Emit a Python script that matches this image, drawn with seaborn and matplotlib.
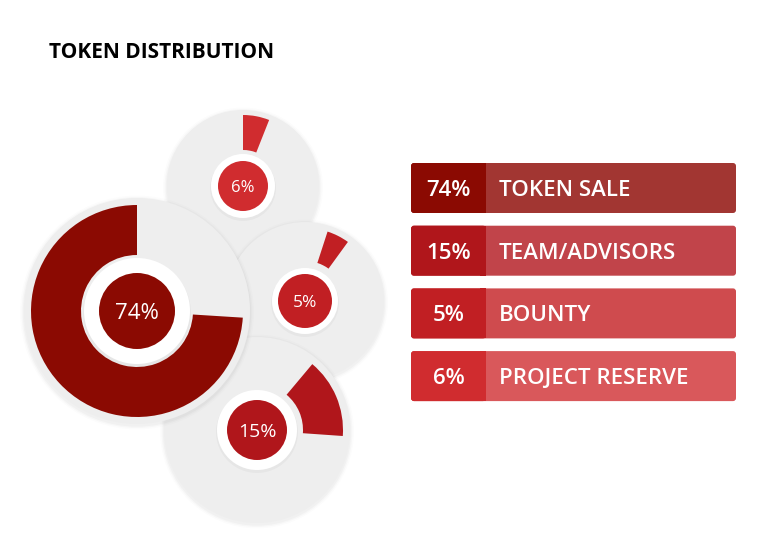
import matplotlib.pyplot as plt
import seaborn as sns
from matplotlib.patches import Circle, FancyBboxPatch, Rectangle

title = "TOKEN DISTRIBUTION"
labels = ["TOKEN SALE", "TEAM/ADVISORS", "BOUNTY", "PROJECT RESERVE"]
shares = [74, 15, 5, 6]
ring_colors = ["#8b0a02", "#b0161b", "#c11f23", "#d02c2f"]
box_colors = ["#a23632", "#c1444a", "#cf4b4e", "#d9585b"]

# donut layout in pixels (origin top-left): centre, gray radius, ring outer/inner,
# white halo radius, dot radius, start angle, direction, font size, draw order
layout = {
    "TOKEN SALE": dict(c=(137, 311), r=113, ro=106, ri=56, rw=53, rd=38, start=90, ccw=True, fs=16, z=4),
    "TEAM/ADVISORS": dict(c=(257, 430), r=93, ro=86, ri=46, rw=40, rd=30, start=50, ccw=False, fs=14, z=3),
    "BOUNTY": dict(c=(305, 301), r=79, ro=73, ri=40, rw=33, rd=27, start=72, ccw=False, fs=12.5, z=2),
    "PROJECT RESERVE": dict(c=(243, 186), r=76, ro=71, ri=36, rw=32, rd=25, start=90, ccw=False, fs=12, z=1),
}

W, H = 760, 548
sns.set_theme(style="white")
plt.rcParams["font.family"] = ["Open Sans", "DejaVu Sans"]

fig = plt.figure(figsize=(W / 100, H / 100), dpi=100)
ax = fig.add_axes([0, 0, 1, 1])

pal = sns.color_palette(ring_colors)
for lab, val, col in zip(labels, shares, pal):
    d = layout[lab]
    cx, cy = d["c"][0], H - d["c"][1]
    z = d["z"] * 10
    # soft shadow
    for k, a in [(4, 0.012), (2.5, 0.018), (1.2, 0.025)]:
        ax.add_patch(Circle((cx, cy - 1.5), d["r"] + k, color="black", alpha=a, lw=0, zorder=z))
    ax.add_patch(Circle((cx, cy), d["r"], color="#eeeeee", lw=0, zorder=z + 1))
    wedges, _ = ax.pie([val, 100 - val], colors=[col, "none"], radius=d["ro"], center=(cx, cy),
                       startangle=d["start"], counterclock=d["ccw"], frame=True,
                       wedgeprops=dict(width=d["ro"] - d["ri"], linewidth=0))
    for w in wedges:
        w.set_zorder(z + 2)
    ax.add_patch(Circle((cx, cy - 2), d["rw"] + 1, color="black", alpha=0.03, lw=0, zorder=z + 3))
    ax.add_patch(Circle((cx, cy), d["rw"], color="white", lw=0, zorder=z + 4))
    ax.add_patch(Circle((cx, cy), d["rd"], color=col, lw=0, zorder=z + 5))
    ax.text(cx, cy, f"{val}%", color="white", fontsize=d["fs"], ha="center", va="center_baseline",
            zorder=z + 6)

# legend boxes
x0, x1, xs = 411, 736, 486
top0, step, bh = 163, 62.7, 50
for i, (lab, val, col, bcol) in enumerate(zip(labels, shares, pal, box_colors)):
    yb = H - (top0 + i * step) - bh
    ax.add_patch(FancyBboxPatch((x0, yb), x1 - x0, bh, boxstyle="round,pad=0,rounding_size=3",
                                color=bcol, lw=0, zorder=100))
    ax.add_patch(FancyBboxPatch((x0, yb), xs - x0, bh, boxstyle="round,pad=0,rounding_size=3",
                                color=col, lw=0, zorder=101))
    ax.add_patch(Rectangle((xs - 6, yb), 6, bh, color=col, lw=0, zorder=101))
    ax.text((x0 + xs) / 2, yb + bh / 2, f"{val}%", color="white", fontsize=16, fontweight="semibold",
            ha="center", va="center_baseline", zorder=102)
    ax.text(499, yb + bh / 2, lab, color="white", fontsize=16, fontweight="semibold",
            ha="left", va="center_baseline", zorder=102)

ax.text(49, H - 58, title, fontsize=15, fontweight="bold", color="black", ha="left", va="baseline")

ax.set_xlim(0, W)
ax.set_ylim(0, H)
ax.set_aspect("equal")
ax.axis("off")
fig.savefig("out.png", dpi=100, facecolor="white")
